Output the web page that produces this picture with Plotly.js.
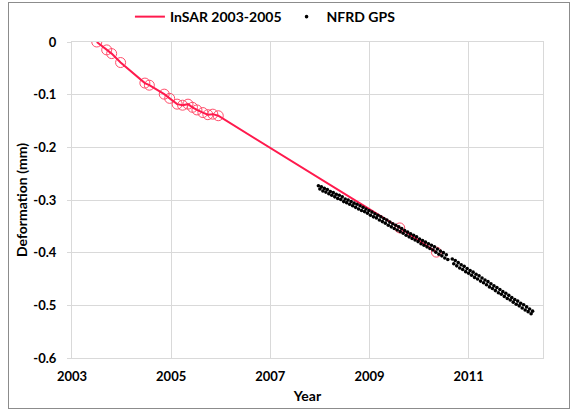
<!DOCTYPE html>
<html>
<head>
<meta charset="utf-8">
<script src="https://cdn.plot.ly/plotly-3.0.1.min.js"></script>
<style>
html,body{margin:0;padding:0;background:#fff;}
#wrap{position:relative;width:577px;height:413px;}
#chart{width:577px;height:413px;}
#frame{position:absolute;left:8px;top:2px;width:560px;height:405px;border:1px solid #8c8c8c;pointer-events:none;}
</style>
</head>
<body>
<div id="wrap"><div id="chart"></div><div id="frame"></div></div>
<script>
// InSAR 2003-2005 observations (year, deformation mm)
const insarYears = [2003.50, 2003.70, 2003.80, 2003.98, 2004.47, 2004.56, 2004.86, 2004.97, 2005.12, 2005.23, 2005.34, 2005.43, 2005.52, 2005.64, 2005.74, 2005.84, 2005.95, 2009.61, 2010.35];
const insarValues = [0.000, -0.015, -0.022, -0.039, -0.078, -0.082, -0.099, -0.107, -0.118, -0.120, -0.118, -0.124, -0.129, -0.134, -0.138, -0.137, -0.140, -0.353, -0.399];

// NFRD GPS time series
const gpsYears = [2007.97,2008.00,2008.03,2008.06,2008.09,2008.12,2008.15,2008.18,2008.21,2008.24,2008.27,2008.30,2008.33,2008.36,2008.39,2008.42,2008.45,2008.48,2008.51,2008.54,2008.57,2008.60,2008.63,2008.66,2008.69,2008.72,2008.75,2008.78,2008.81,2008.84,2008.87,2008.90,2008.93,2008.96,2008.99,2009.02,2009.05,2009.08,2009.11,2009.14,2009.17,2009.20,2009.23,2009.26,2009.29,2009.32,2009.35,2009.38,2009.41,2009.44,2009.47,2009.50,2009.53,2009.56,2009.59,2009.62,2009.65,2009.68,2009.71,2009.74,2009.77,2009.80,2009.83,2009.86,2009.89,2009.92,2009.95,2009.98,2010.01,2010.04,2010.07,2010.10,2010.13,2010.16,2010.19,2010.22,2010.25,2010.28,2010.31,2010.34,2010.37,2010.40,2010.43,2010.46,2010.49,2010.52,2010.55,2010.58,2010.67,2010.70,2010.73,2010.76,2010.79,2010.82,2010.85,2010.88,2010.91,2010.94,2010.97,2011.00,2011.03,2011.06,2011.09,2011.12,2011.15,2011.18,2011.21,2011.24,2011.27,2011.30,2011.33,2011.36,2011.39,2011.42,2011.45,2011.48,2011.51,2011.54,2011.57,2011.60,2011.63,2011.66,2011.69,2011.72,2011.75,2011.78,2011.81,2011.84,2011.87,2011.90,2011.93,2011.96,2011.99,2012.02,2012.05,2012.08,2012.11,2012.14,2012.17,2012.20,2012.23,2012.26,2012.29];
const gpsValues = [-0.273,-0.279,-0.275,-0.283,-0.278,-0.285,-0.280,-0.288,-0.284,-0.291,-0.286,-0.294,-0.289,-0.297,-0.291,-0.299,-0.294,-0.303,-0.298,-0.305,-0.300,-0.308,-0.303,-0.311,-0.306,-0.314,-0.308,-0.317,-0.311,-0.320,-0.314,-0.322,-0.317,-0.325,-0.320,-0.329,-0.323,-0.332,-0.326,-0.334,-0.329,-0.338,-0.332,-0.341,-0.335,-0.344,-0.338,-0.348,-0.342,-0.351,-0.345,-0.354,-0.348,-0.357,-0.351,-0.360,-0.354,-0.363,-0.358,-0.367,-0.361,-0.370,-0.364,-0.373,-0.367,-0.376,-0.370,-0.379,-0.374,-0.383,-0.377,-0.386,-0.380,-0.389,-0.383,-0.392,-0.386,-0.395,-0.389,-0.399,-0.393,-0.403,-0.397,-0.406,-0.400,-0.410,-0.404,-0.413,-0.412,-0.421,-0.415,-0.425,-0.419,-0.429,-0.423,-0.432,-0.426,-0.436,-0.430,-0.439,-0.434,-0.443,-0.437,-0.447,-0.441,-0.450,-0.444,-0.454,-0.448,-0.457,-0.452,-0.461,-0.455,-0.465,-0.459,-0.468,-0.463,-0.472,-0.466,-0.476,-0.470,-0.479,-0.474,-0.483,-0.477,-0.487,-0.481,-0.490,-0.485,-0.494,-0.489,-0.498,-0.492,-0.501,-0.496,-0.505,-0.499,-0.509,-0.503,-0.512,-0.507,-0.516,-0.511];

const xTickVals = [2003, 2005, 2007, 2009, 2011];
const yTickVals = [0, -0.1, -0.2, -0.3, -0.4, -0.5, -0.6];
const yTickText = ['0', '-0.1', '-0.2', '-0.3', '-0.4', '-0.5', '-0.6'];

const FONT = 'Lato, "Open Sans", sans-serif';
const RED = '#ff1a4d';

const traces = [
  {x: insarYears, y: insarValues, type: 'scatter', mode: 'markers', name: 'InSAR 2003-2005',
   showlegend: false, marker: {symbol: 'circle-open', size: 10, color: '#ff4d6a', line: {width: 1}}},
  {x: insarYears, y: insarValues, type: 'scatter', mode: 'lines', name: 'InSAR 2003-2005',
   line: {color: RED, width: 2}},
  {x: gpsYears, y: gpsValues, type: 'scatter', mode: 'markers', name: 'NFRD GPS',
   marker: {color: '#000', size: 3.6}}
];

const axisCommon = {
  showgrid: true, gridcolor: '#d9d9d9', gridwidth: 1,
  showline: true, linecolor: '#d9d9d9', linewidth: 1, mirror: true,
  zeroline: false,
  tickfont: {family: FONT, size: 13, color: '#000', weight: 'bold'}
};

const layout = {
  width: 577, height: 413,
  margin: {l: 72, r: 34, t: 42, b: 55, autoexpand: false},
  paper_bgcolor: '#fff', plot_bgcolor: '#fff',
  font: {family: FONT, color: '#000'},
  showlegend: true,
  legend: {orientation: 'h', x: 0.123, xanchor: 'left', y: 1.079, yanchor: 'middle',
           font: {family: FONT, size: 14, color: '#000', weight: 'bold'},
           bgcolor: 'rgba(0,0,0,0)', itemwidth: 30, tracegroupgap: 0},
  xaxis: Object.assign({}, axisCommon, {
    range: [2003, 2012.5], tickvals: xTickVals, ticktext: xTickVals.map(String),
    ticks: '', ticklabelstandoff: 6,
    title: {text: 'Year', font: {family: FONT, size: 14, color: '#000', weight: 'bold'}, standoff: 8}
  }),
  yaxis: Object.assign({}, axisCommon, {
    range: [-0.6, 0], tickvals: yTickVals, ticktext: yTickText,
    ticks: 'outside', ticklen: 4, tickcolor: '#d9d9d9', ticklabelstandoff: 8,
    title: {text: 'Deformation (mm)', font: {family: FONT, size: 14, color: '#000', weight: 'bold'}, standoff: 2}
  })
};

Plotly.newPlot('chart', traces, layout, {displayModeBar: false, staticPlot: true});
</script>
</body>
</html>
